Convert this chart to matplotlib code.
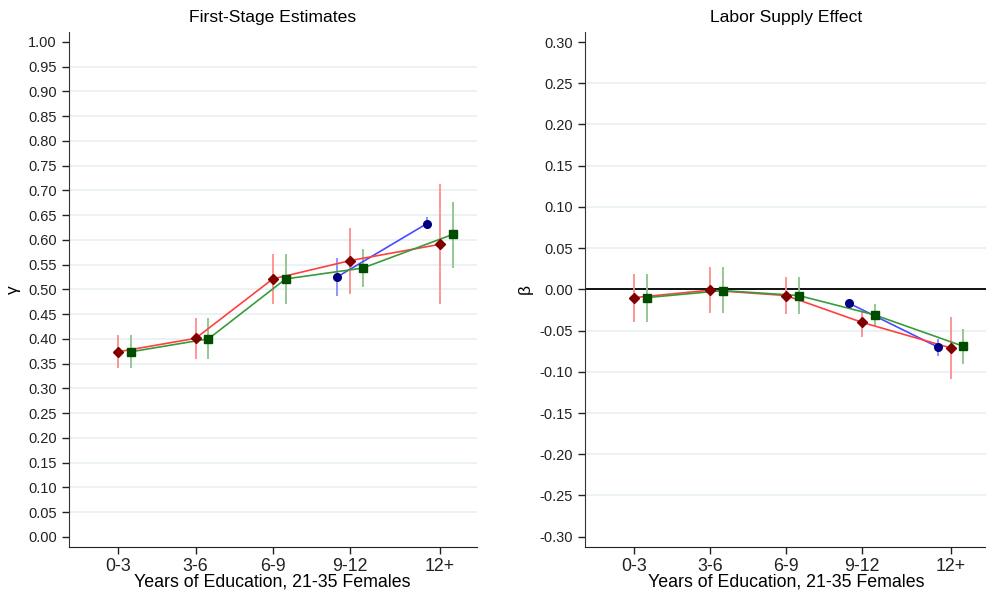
import numpy as np
import matplotlib.pyplot as plt

plt.rcParams['font.family'] = ['Liberation Sans', 'DejaVu Sans']

# Education groups (x positions on a years scale)
groups = ["0-3", "3-6", "6-9", "9-12", "12+"]
xpos = [1.5, 4.5, 7.5, 10.5, 14.0]

# First-stage estimates (gamma): estimate, lower, upper
fs_red = [0.374, 0.401, 0.521, 0.558, 0.591]
fs_red_lo = [0.342, 0.360, 0.471, 0.490, 0.470]
fs_red_hi = [0.408, 0.442, 0.571, 0.624, 0.713]

fs_green = [0.374, 0.400, 0.521, 0.543, 0.611]
fs_green_lo = [0.342, 0.360, 0.471, 0.505, 0.544]
fs_green_hi = [0.408, 0.442, 0.571, 0.581, 0.677]

fs_blue = [0.525, 0.633]
fs_blue_lo = [0.487, 0.622]
fs_blue_hi = [0.563, 0.646]

# Labor supply effect (beta)
ls_red = [-0.010, -0.001, -0.0075, -0.040, -0.071]
ls_red_lo = [-0.039, -0.029, -0.030, -0.058, -0.109]
ls_red_hi = [0.019, 0.027, 0.015, -0.026, -0.034]

ls_green = [-0.010, -0.0015, -0.0075, -0.031, -0.069]
ls_green_lo = [-0.039, -0.029, -0.030, -0.044, -0.091]
ls_green_hi = [0.019, 0.027, 0.015, -0.018, -0.048]

ls_blue = [-0.017, -0.070]
ls_blue_lo = [-0.020, -0.081]
ls_blue_hi = [-0.014, -0.060]

x = np.array(xpos)
off = 0.5


def draw_series(ax, xs, y, lo, hi, lcol, ecol, mcol, marker, ms):
    y = np.array(y)
    yerr = [y - np.array(lo), np.array(hi) - y]
    ax.errorbar(xs, y, yerr=yerr, fmt='none', ecolor=ecol, elinewidth=1.3,
                capsize=0, zorder=2)
    ax.plot(xs, y, color=lcol, lw=1.2, zorder=3)
    ax.plot(xs, y, ls='none', marker=marker, color=mcol, ms=ms, zorder=4)


def style(ax, ticks, ylabel, title):
    ax.set_xlim(-0.44, 15.44)
    ax.set_xticks(x)
    ax.set_xticklabels(groups, fontsize=12.8)
    ax.set_yticks(ticks)
    ax.set_yticklabels(["%.2f" % (t + 0.0) for t in ticks], fontsize=10.5)
    for t in ticks[1:-1]:
        ax.axhline(t, color='#e8f0f2', lw=1.2, zorder=0)
    for s in ['top', 'right']:
        ax.spines[s].set_visible(False)
    ax.spines['left'].set_color('#333333')
    ax.spines['bottom'].set_color('#222222')
    ax.tick_params(direction='out', length=5, width=1, colors='#222222')
    ax.tick_params(axis='x', pad=3)
    ax.set_xlabel("Years of Education, 21-35 Females", fontsize=12.8, labelpad=-1)
    ax.set_ylabel(ylabel, fontsize=12.5, rotation=90, labelpad=5)
    ax.set_title(title, fontsize=12.6, pad=7)


fig = plt.figure(figsize=(9.87, 5.91), dpi=100)
ax1 = fig.add_axes([68.5 / 987, 44 / 591, 408.5 / 987, 515.3 / 591])
ax2 = fig.add_axes([585 / 987, 44 / 591, 402 / 987, 515.3 / 591])

# left panel
draw_series(ax1, x[3:] - off, fs_blue, fs_blue_lo, fs_blue_hi, '#4a4aff', '#8a8aff', '#000080', 'o', 5.5)
draw_series(ax1, x, fs_red, fs_red_lo, fs_red_hi, '#ff4040', '#ff8c8c', '#800000', 'D', 5.5)
draw_series(ax1, x + off, fs_green, fs_green_lo, fs_green_hi, '#3a9a3a', '#8cc48c', '#004d00', 's', 5.8)
ax1.set_ylim(-0.0205, 1.0205)
style(ax1, np.round(np.arange(0, 1.0001, 0.05), 2), "\u03b3", "First-Stage Estimates")

# right panel
ax2.axhline(0, color='black', lw=1.3, zorder=1)
draw_series(ax2, x[3:] - off, ls_blue, ls_blue_lo, ls_blue_hi, '#4a4aff', '#8a8aff', '#000080', 'o', 5.5)
draw_series(ax2, x, ls_red, ls_red_lo, ls_red_hi, '#ff4040', '#ff8c8c', '#800000', 'D', 5.5)
draw_series(ax2, x + off, ls_green, ls_green_lo, ls_green_hi, '#3a9a3a', '#8cc48c', '#004d00', 's', 5.8)
ax2.set_ylim(-0.3125, 0.3125)
style(ax2, np.round(np.arange(-0.30, 0.3001, 0.05), 2), "\u03b2", "Labor Supply Effect")

fig.savefig("out.png", dpi=100)
